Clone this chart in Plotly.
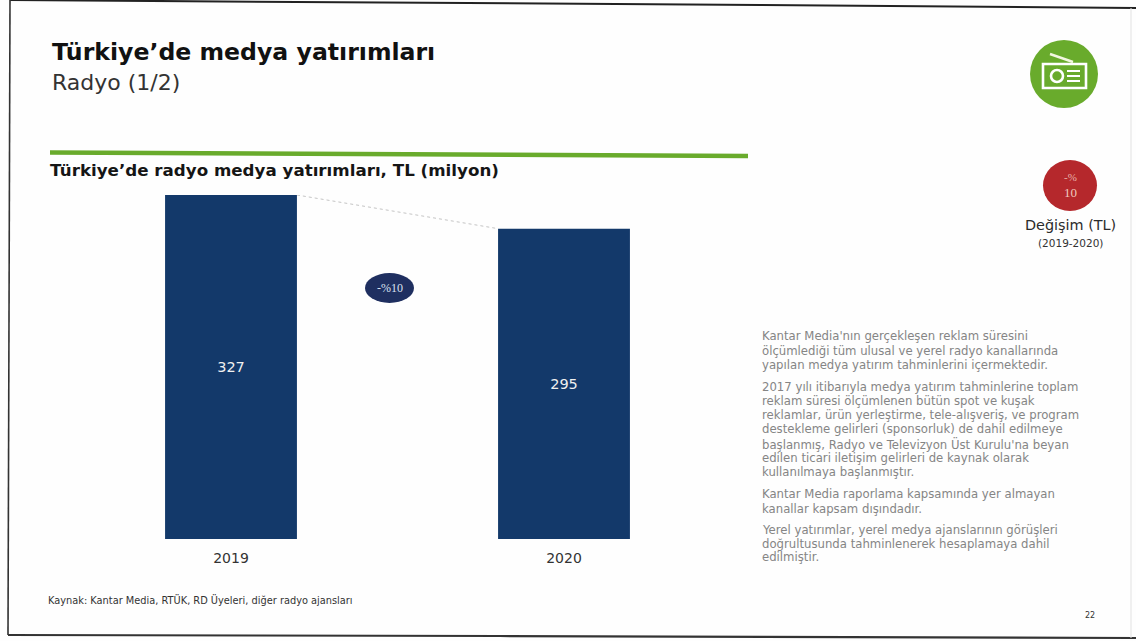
import plotly.graph_objects as go

W, H = 1136, 641

# Chart data
years = ["2019", "2020"]
investment_tl_mn = [327, 295]
change_label = "-%10"

# Page texts
page_title = "Türkiye’de medya yatırımları"
page_subtitle = "Radyo (1/2)"
chart_title = "Türkiye’de radyo medya yatırımları, TL (milyon)"
source_note = "Kaynak: Kantar Media, RTÜK, RD Üyeleri, diğer radyo ajansları"
notes = [
    ("Kantar Media'nın gerçekleşen reklam süresini", 336),
    ("ölçümlediği tüm ulusal ve yerel radyo kanallarında", 351),
    ("yapılan medya yatırım tahminlerini içermektedir.", 365),
    ("2017 yılı itibarıyla medya yatırım tahminlerine toplam", 387),
    ("reklam süresi ölçümlenen bütün spot ve kuşak", 401),
    ("reklamlar, ürün yerleştirme, tele-alışveriş, ve program", 415),
    ("destekleme gelirleri (sponsorluk) de dahil edilmeye", 429),
    ("başlanmış, Radyo ve Televizyon Üst Kurulu'na beyan", 444),
    ("edilen ticari iletişim gelirleri de kaynak olarak", 458),
    ("kullanılmaya başlanmıştır.", 472),
    ("Kantar Media raporlama kapsamında yer almayan", 494),
    ("kanallar kapsam dışındadır.", 509),
    ("Yerel yatırımlar, yerel medya ajanslarının görüşleri", 530),
    ("doğrultusunda tahminlenerek hesaplamaya dahil", 544),
    ("edilmiştir.", 557),
]

FONT = "DejaVu Sans"
NAVY = "#13396a"
GREEN = "#69ab2c"
RED = "#b5282c"
BAR_WIDTH = 0.396


def px(x):
    return x / W


def py(y):
    return 1 - y / H


def text(x, y, s, size, color="#222222", bold=False, anchor="left", family=FONT):
    return dict(
        x=px(x), y=py(y), xref="paper", yref="paper", text=f"<b>{s}</b>" if bold else s,
        showarrow=False, xanchor=anchor, yanchor="middle", align=anchor,
        font=dict(family=family, size=size, color=color), borderpad=0, borderwidth=0,
    )


def pline(x0, y0, x1, y1, color, width, dash="solid"):
    return dict(type="line", xref="paper", yref="paper", x0=px(x0), y0=py(y0), x1=px(x1), y1=py(y1),
                line=dict(color=color, width=width, dash=dash))


def pellipse(x0, y0, x1, y1, fill, line=None, width=0):
    return dict(type="circle", xref="paper", yref="paper", x0=px(x0), y0=py(y0), x1=px(x1), y1=py(y1),
                fillcolor=fill, line=dict(color=line or fill, width=width))


def prect(x0, y0, x1, y1, line, width):
    return dict(type="rect", xref="paper", yref="paper", x0=px(x0), y0=py(y0), x1=px(x1), y1=py(y1),
                fillcolor="rgba(0,0,0,0)", line=dict(color=line, width=width))


fig = go.Figure(
    go.Bar(
        x=years,
        y=investment_tl_mn,
        width=BAR_WIDTH,
        marker=dict(color=NAVY, line=dict(width=0)),
        text=[str(v) for v in investment_tl_mn],
        textposition="inside",
        insidetextanchor="middle",
        textangle=0,
        textfont=dict(family=FONT, size=14.5, color="#f0f0f0"),
        hoverinfo="x+y",
    )
)

shapes = [
    # Scanned page border
    pline(10, 0, 760, 5, "#222222", 2),
    pline(760, 5, 1136, 8, "#222222", 2),
    pline(10, 0, 8, 635, "#333333", 1.6),
    pline(8, 635, 500, 636, "#333333", 2),
    pline(500, 636, 1136, 638, "#333333", 2.2),
    pline(1131, 8, 1131, 638, "#e2e2e2", 1),
    # Heading rule
    pline(50, 152.5, 748, 156, GREEN, 4.5),
    # Connector between the two bars
    dict(type="line", xref="x", yref="y",
         x0=BAR_WIDTH / 2, y0=investment_tl_mn[0],
         x1=1 - BAR_WIDTH / 2, y1=investment_tl_mn[1],
         line=dict(color="#c4c4c4", width=1, dash="dot")),
    # Change bubble on the chart
    pellipse(365, 273, 414, 303, "#1f2f60"),
    # Radio badge
    pellipse(1030, 40, 1098, 108, GREEN),
    prect(1043, 64, 1086, 88, "#ffffff", 2.6),
    pline(1050, 54, 1073, 62, "#f2f7df", 2.4),
    pellipse(1051, 70, 1063, 82, "rgba(0,0,0,0)", "#ffffff", 2.6),
    pline(1067, 71, 1080, 71, "#ffffff", 2),
    pline(1067, 76, 1080, 76, "#ffffff", 2),
    pline(1067, 81, 1080, 81, "#ffffff", 2),
    # Change badge
    pellipse(1043, 160, 1097, 211, RED),
]

annotations = [
    text(52, 52, page_title, 23.6, "#111111", bold=True),
    text(52, 82, page_subtitle, 22, "#333333"),
    text(50, 170, chart_title, 16.7, "#151515", bold=True),
    text(390, 288, change_label, 12, "#dbe2f0", anchor="center", family="Liberation Serif"),
    text(1070, 177, "-%", 11, "#e9b3ab", anchor="center", family="Liberation Serif"),
    text(1070, 193, "10", 13, "#f0c9bd", anchor="center", family="Liberation Serif"),
    text(1070, 225, "Değişim (TL)", 14.4, "#2b2b2b", anchor="center"),
    text(1070, 243, "(2019-2020)", 10.5, "#333333", anchor="center"),
    text(48, 600, source_note, 9.8, "#333333"),
    text(1090, 615, "22", 8, "#333333", anchor="center"),
]
annotations += [text(762, y, line, 11.7, "#858585") for line, y in notes]

# Axes are placed so the bars sit at their page position: the baseline is at y=539
# and the category centres are at x=231 and x=564.
fig.update_layout(
    width=W,
    height=H,
    autosize=False,
    margin=dict(l=0, r=0, t=0, b=0),
    paper_bgcolor="#fefefe",
    plot_bgcolor="rgba(0,0,0,0)",
    showlegend=False,
    xaxis=dict(
        domain=[px(64.5), px(730.5)],
        type="category",
        range=[-0.5, 1.5],
        showgrid=False,
        showline=False,
        zeroline=False,
        ticks="",
        ticklabelstandoff=9,
        tickfont=dict(family=FONT, size=14, color="#333333"),
    ),
    yaxis=dict(
        domain=[py(539), py(195)],
        range=[0, investment_tl_mn[0]],
        visible=False,
    ),
    shapes=shapes,
    annotations=annotations,
)

fig.write_html("out.html", config=dict(displayModeBar=False))
